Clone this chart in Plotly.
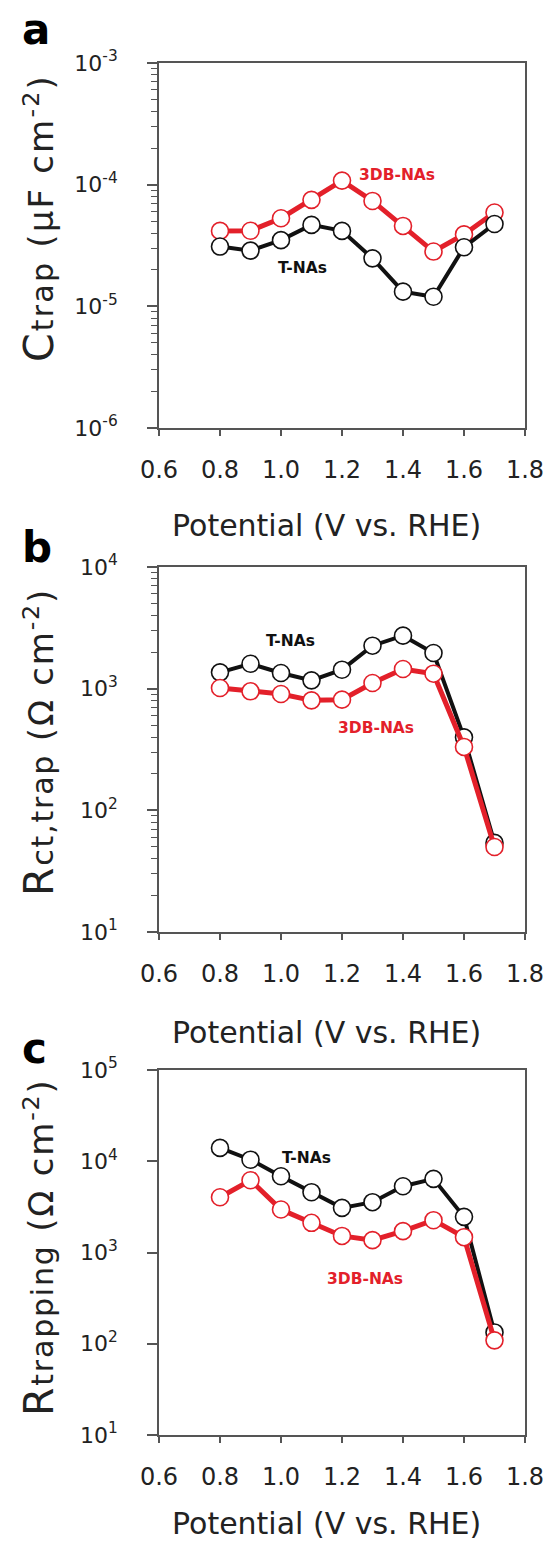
import plotly.graph_objects as go

# ---------------- data ----------------
potential = [0.8, 0.9, 1.0, 1.1, 1.2, 1.3, 1.4, 1.5, 1.6, 1.7]

ctrap_tnas = [3.1e-5, 2.87e-5, 3.5e-5, 4.67e-5, 4.17e-5, 2.48e-5, 1.32e-5, 1.2e-5, 3.06e-5, 4.75e-5]
ctrap_3db = [4.17e-5, 4.18e-5, 5.3e-5, 7.5e-5, 1.08e-4, 7.35e-5, 4.58e-5, 2.82e-5, 3.9e-5, 5.9e-5]

rct_tnas = [1362, 1603, 1345, 1171, 1432, 2256, 2727, 1964, 398, 54]
rct_3db = [1013, 951, 904, 802, 812, 1113, 1451, 1328, 332, 50]

rtrap_tnas = [14000, 10400, 6850, 4580, 3085, 3560, 5320, 6410, 2460, 133]
rtrap_3db = [4035, 6190, 2958, 2115, 1519, 1365, 1714, 2260, 1472, 109]

x_ticks = [0.6, 0.8, 1.0, 1.2, 1.4, 1.6, 1.8]
x_ticktext = ["0.6", "0.8", "1.0", "1.2", "1.4", "1.6", "1.8"]

ya_exp = [-6, -5, -4, -3]
yb_exp = [1, 2, 3, 4]
yc_exp = [1, 2, 3, 4, 5]

series_names = ["T-NAs", "3DB-NAs"]
panel_letters = ["a", "b", "c"]
y_titles = [
    "<span style='letter-spacing:2.2px'><span style='font-size:41px'>C</span><span style='font-size:30px'>trap</span> (μF cm<sup>-2</sup>)</span>",
    "<span style='letter-spacing:1.8px'><span style='font-size:41px'>R</span><span style='font-size:30px'>ct,trap</span> (Ω cm<sup>-2</sup>)</span>",
    "<span style='letter-spacing:1.8px'><span style='font-size:41px'>R</span><span style='font-size:30px'>trapping</span> (Ω cm<sup>-2</sup>)</span>",
]
x_title = "Potential (V vs. RHE)"

# ---------------- style ----------------
W, H = 547, 1551
BLACK = "#111111"
RED = "#e3202a"
AXC = "#555555"
TXT = "#222222"
FONT = "DejaVu Sans"

x_dom = [159 / W, 525 / W]
# pixel top/bottom of each plot frame
frames = [(63, 428), (567, 932), (1070, 1435)]


def py(p):
    return (H - p) / H


fig = go.Figure()

panels = [
    (ctrap_tnas, ctrap_3db, ya_exp, True, True),
    (rct_tnas, rct_3db, yb_exp, True, False),
    (rtrap_tnas, rtrap_3db, yc_exp, False, False),
]

for i, (blk, red, exps, minor_on, red_first) in enumerate(panels):
    sfx = "" if i == 0 else str(i + 1)
    order = [("red", red), ("blk", blk)] if red_first else [("blk", blk), ("red", red)]
    for kind, vals in order:
        col = BLACK if kind == "blk" else RED
        fig.add_trace(go.Scatter(
            x=potential, y=vals, mode="lines+markers",
            name=series_names[0] if kind == "blk" else series_names[1],
            line=dict(color=col, width=4 if kind == "blk" else 5),
            marker=dict(symbol="circle", size=17, color="white",
                        line=dict(color=col, width=1.6)),
            xaxis="x" + sfx, yaxis="y" + sfx, showlegend=False,
        ))

    top, bot = frames[i]
    fig.layout["xaxis" + sfx] = dict(
        domain=x_dom, anchor="y" + sfx, range=[0.6, 1.8], automargin=False,
        tickmode="array", tickvals=x_ticks, ticktext=x_ticktext,
        ticks="outside", ticklen=6, tickwidth=1.5, tickcolor=AXC,
        showline=True, linecolor=AXC, linewidth=1.8, mirror=True,
        showgrid=False, zeroline=False,
        tickfont=dict(family=FONT, size=24, color=TXT),
        ticklabelstandoff=13,
    )
    minor_vals = [m * 10 ** e for e in exps[:-1] for m in range(2, 10)]
    ydict = dict(
        domain=[py(bot), py(top)], anchor="x" + sfx, type="log", automargin=False,
        range=[exps[0], exps[-1]],
        tickmode="array", tickvals=[10 ** e for e in exps],
        ticktext=["10<sup>%d</sup>" % e for e in exps],
        ticks="outside", ticklen=10, tickwidth=1.5, tickcolor=AXC,
        showline=True, linecolor=AXC, linewidth=1.8, mirror=True,
        showgrid=False, zeroline=False,
        tickfont=dict(family=FONT, size=22, color=TXT),
        ticklabelstandoff=25,
    )
    if minor_on:
        ydict["minor"] = dict(tickmode="array", tickvals=minor_vals, ticks="outside",
                              ticklen=6, tickwidth=1.2, tickcolor=AXC, showgrid=False)
    fig.layout["yaxis" + sfx] = ydict

# ---------------- annotations ----------------
ann = []
# panel letters (pixel positions)
letter_pos = [(20, 30), (20, 547), (20, 1048)]
for L, (lx, ly) in zip(panel_letters, letter_pos):
    ann.append(dict(text="<b>%s</b>" % L, xref="paper", yref="paper",
                    x=lx / W, y=py(ly), xanchor="left", yanchor="middle",
                    showarrow=False, font=dict(family=FONT, size=42, color="#000")))

# y titles
ytitle_pos = [218, 742, 1247]
for t, yy in zip(y_titles, ytitle_pos):
    ann.append(dict(text=t, xref="paper", yref="paper", x=39 / W, y=py(yy),
                    xanchor="center", yanchor="middle", textangle=-90,
                    showarrow=False, font=dict(family=FONT, size=34, color=TXT)))

# x titles
xtitle_pos = [525, 1032, 1523]
for yy in xtitle_pos:
    ann.append(dict(text=x_title, xref="paper", yref="paper", x=326 / W, y=py(yy),
                    xanchor="center", yanchor="middle", showarrow=False,
                    font=dict(family=FONT, size=30, color=TXT)))

# series labels (data coords; y in log10 units)
series_label_pos = [
    [(1.072, -4.684), (1.380, -3.920)],
    [(1.030, 3.394), (1.3105, 2.677)],
    [(1.084, 4.032), (1.275, 2.71)],
]
for i, pos in enumerate(series_label_pos):
    sfx = "" if i == 0 else str(i + 1)
    for name, col, (ax_, ay_) in zip(series_names, [BLACK, RED], pos):
        ann.append(dict(text="<b>%s</b>" % name, xref="x" + sfx, yref="y" + sfx,
                        x=ax_, y=ay_, xanchor="center", yanchor="middle",
                        showarrow=False, font=dict(family=FONT, size=15.5, color=col)))

fig.update_layout(
    width=W, height=H, margin=dict(l=0, r=0, t=0, b=0),
    paper_bgcolor="white", plot_bgcolor="white",
    showlegend=False, annotations=ann,
    font=dict(family=FONT, color=TXT),
)

fig.write_html("out.html", config={"displayModeBar": False},
               post_script="document.body.style.margin='0';document.body.style.overflow='hidden';")
